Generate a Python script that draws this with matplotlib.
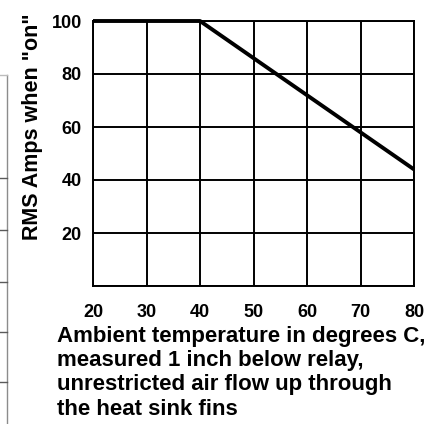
import matplotlib
matplotlib.use('Agg')
import matplotlib.pyplot as plt
from matplotlib.lines import Line2D

plt.rcParams['font.family'] = ['Liberation Sans', 'DejaVu Sans']
plt.rcParams['font.weight'] = 'bold'

# derating curve: flat at 100 A up to 40 C, then linear down to ~44 A at 80 C
temp_c = [20, 40, 80]
rms_amps = [100, 100, 44]

x_ticks = [20, 30, 40, 50, 60, 70, 80]
y_ticks = [20, 40, 60, 80, 100]
y_grid = [0, 20, 40, 60, 80, 100]

W, H = 446, 424
fig = plt.figure(figsize=(W / 100, H / 100), dpi=100)
ax = fig.add_axes([93 / W, 1 - 286 / H, 321 / W, 265 / H])

ax.set_xlim(20, 80)
ax.set_ylim(0, 100)

for x in x_ticks:
    ax.axvline(x, color='black', linewidth=1.4, zorder=1)
for y in y_grid:
    ax.axhline(y, color='black', linewidth=1.4, zorder=1)

ax.plot(temp_c, rms_amps, color='black', linewidth=2.8, solid_capstyle='butt', zorder=3,
        clip_on=False)

for s in ax.spines.values():
    s.set_linewidth(1.4)

ax.set_xticks(x_ticks)
ax.set_yticks(y_ticks)
ax.tick_params(axis='x', length=0, pad=13, labelsize=13)
ax.tick_params(axis='y', length=0, pad=8, labelsize=13)
for lab in ax.get_xticklabels() + ax.get_yticklabels():
    lab.set_fontweight('bold')

ax.set_ylabel('RMS Amps when "on"', fontsize=15.5, fontweight='bold')
ax.yaxis.set_label_coords((43 - 93) / 321, (286 - 127) / 265)

ax.set_xlabel('Ambient temperature in degrees C,\nmeasured 1 inch below relay,\n'
              'unrestricted air flow up through\nthe heat sink fins',
              fontsize=16, fontweight='bold', ha='left', va='top',
              multialignment='left', linespacing=1.2)
ax.xaxis.set_label_coords((57 - 93) / 321, (286 - 326) / 265)

# edge of the neighbouring table that was cut off at the left
def px_line(x0, y0, x1, y1, color, lw):
    fig.add_artist(Line2D([x0 / W, x1 / W], [1 - y0 / H, 1 - y1 / H],
                          color=color, linewidth=lw, transform=fig.transFigure))

px_line(7, 75, 7, 424, '#8c8c8c', 1.0)
px_line(0, 75, 7, 75, '#bdbdbd', 1.0)
for yy in [178, 230, 282, 332, 382]:
    px_line(0, yy, 7, yy, '#5a5a5a', 1.0)

fig.savefig('out.png', dpi=100)
